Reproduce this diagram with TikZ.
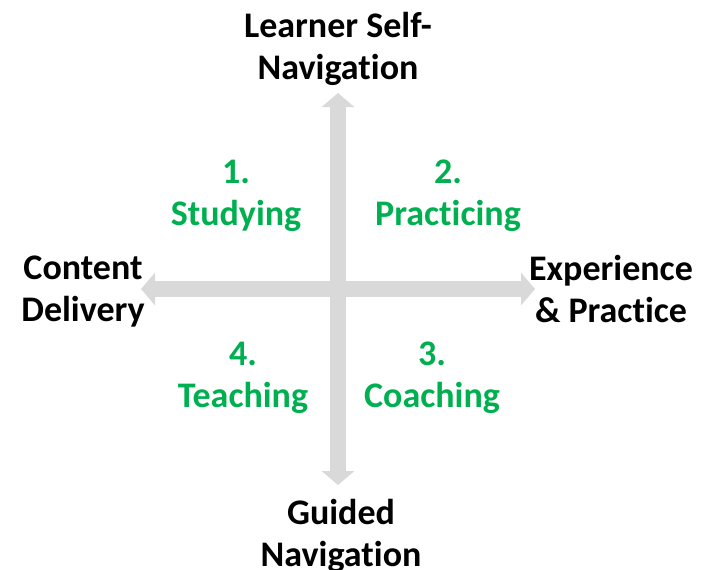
\documentclass[tikz,border=0pt]{standalone}
\usepackage{fontspec}
\setmainfont{Carlito}[Ligatures=NoCommon]
\usepackage{tikz}
\usetikzlibrary{arrows.meta}
\definecolor{quadgreen}{HTML}{00B050}
\definecolor{axisgray}{HTML}{D9D9D9}

\tikzset{
  axis/.style={line width=12pt, color=axisgray,
    {Triangle[width=24pt,length=10.5pt]}-{Triangle[width=24pt,length=10.5pt]}},
  pole/.style={align=center, inner sep=0pt, font=\fontsize{27}{31.5}\selectfont\bfseries},
  quad/.style={pole, text=quadgreen},
}

\begin{document}
\begin{tikzpicture}[x=0.75pt,y=-0.75pt]
    \useasboundingbox (0,0) rectangle (703,569);

    \coordinate (north) at (338,93);%上端
    \coordinate (south) at (338,485);%下端
    \coordinate (west) at (141,289);%左端
    \coordinate (east) at (535,289);%右端
    \draw [axis](west)--(east);
    \draw [axis](south)--(north);

    \node[pole] (self) at (338,49) {Learner Self-\\Navigation};
    \node[pole] (guided) at (341,536) {Guided\\Navigation};
    \node[pole] (content) at (83,292) {Content\\Delivery};
    \node[pole] (experience) at (611,289) {Experience\\\& Practice};

    \node[quad] (studying) at (236,196) {1.\\Studying};
    \node[quad] (practicing) at (448,196) {2.\\Practicing};
    \node[quad] (coaching) at (432,378) {3.\\Coaching};
    \node[quad] (teaching) at (243,378) {4.\\Teaching};
\end{tikzpicture}
\end{document}
